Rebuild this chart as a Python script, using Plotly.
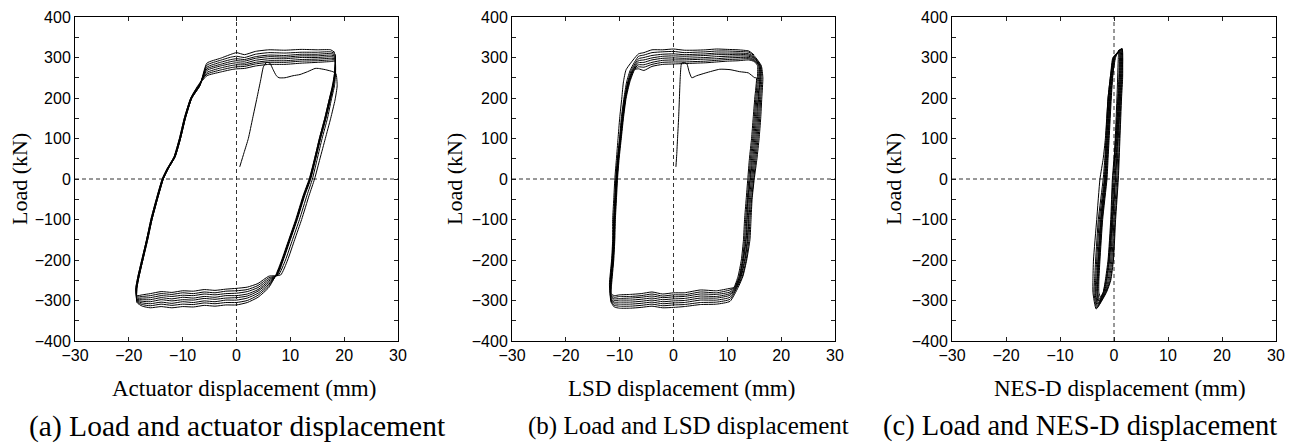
import plotly.graph_objects as go

# ---------------- Panel (a): load vs actuator displacement ----------------
A_INIT_X = [0.6, 1.4, 2.2, 3.0, 3.8, 4.5, 5.0, 5.6, 6.2, 6.8, 7.4, 7.9, 9.0, 10.5, 11.8, 13.2, 14.6, 15.2, 16.5, 17.9, 18.3]
A_INIT_Y = [30, 65, 100, 150, 200, 245, 277, 288, 286, 270, 255, 250, 250, 255, 258, 265, 273, 273, 270, 265, 262]

A_RD_Y = [260, 230, 195, 150, 100, 50, 0, -40, -100, -150, -200, -237]
A_RD_X = [
    [18.5, 18.7, 18.3, 17.5, 16.5, 15.5, 14.5, 13.5, 12.1, 10.8, 9.5, 8.2],
    [18.4, 18.2, 17.6, 16.9, 15.9, 15.0, 14.1, 13.1, 11.7, 10.4, 9.1, 7.8],
    [18.3, 18.0, 17.4, 16.6, 15.6, 14.7, 13.8, 12.7, 11.3, 10.0, 8.7, 7.6],
    [18.3, 18.0, 17.4, 16.6, 15.6, 14.7, 13.7, 12.6, 11.2, 9.9, 8.6, 7.5],
    [18.3, 17.9, 17.3, 16.5, 15.5, 14.6, 13.7, 12.6, 11.2, 9.9, 8.6, 7.5],
    [18.3, 17.9, 17.3, 16.5, 15.5, 14.6, 13.6, 12.5, 11.1, 9.8, 8.5, 7.4],
    [18.2, 17.9, 17.2, 16.4, 15.4, 14.5, 13.6, 12.5, 11.1, 9.8, 8.5, 7.4],
    [18.2, 17.8, 17.2, 16.4, 15.4, 14.5, 13.5, 12.4, 11.0, 9.7, 8.4, 7.3],
]
A_BP_X = [6.0, 4.0, 2.0, 0.0, -2.0, -4.0, -6.0, -8.0, -10.0, -12.0, -14.0, -16.0, -17.5, -18.5]
A_BP_Y = [
    [-240, -258, -267, -270, -272, -275, -273, -277, -276, -280, -278, -283, -286, -288],
    [-244, -263, -273, -276, -277, -281, -279, -283, -281, -285, -283, -288, -290, -291],
    [-248, -268, -278, -282, -283, -286, -284, -288, -287, -290, -288, -293, -294, -294],
    [-252, -273, -284, -288, -288, -292, -290, -294, -292, -296, -293, -298, -298, -297],
    [-256, -277, -289, -293, -294, -297, -295, -299, -298, -301, -298, -303, -302, -299],
    [-260, -282, -294, -299, -299, -303, -301, -305, -303, -307, -304, -308, -306, -301],
    [-264, -287, -300, -305, -305, -308, -306, -310, -309, -312, -309, -313, -310, -303],
    [-268, -292, -305, -311, -311, -314, -312, -316, -315, -318, -315, -318, -314, -305],
]
A_LU_Y = [-270, -240, -200, -150, -100, -50, 0, 25, 55, 100, 150, 200, 230]
A_LU_X = [
    [-18.7, -18.3, -17.6, -16.7, -15.9, -14.9, -13.8, -12.9, -11.6, -10.6, -9.7, -8.5, -7.1],
    [-18.7, -18.3, -17.6, -16.7, -15.9, -14.9, -13.8, -12.9, -11.6, -10.6, -9.7, -8.5, -7.2],
    [-18.6, -18.2, -17.5, -16.7, -15.8, -14.8, -13.7, -12.8, -11.5, -10.5, -9.6, -8.4, -7.0],
    [-18.6, -18.2, -17.5, -16.6, -15.8, -14.8, -13.7, -12.8, -11.5, -10.5, -9.6, -8.4, -7.0],
    [-18.6, -18.2, -17.5, -16.6, -15.8, -14.8, -13.7, -12.8, -11.5, -10.5, -9.6, -8.4, -6.9],
    [-18.6, -18.1, -17.4, -16.6, -15.7, -14.7, -13.6, -12.7, -11.4, -10.4, -9.5, -8.3, -6.9],
    [-18.5, -18.1, -17.4, -16.5, -15.7, -14.7, -13.6, -12.7, -11.4, -10.4, -9.5, -8.3, -6.8],
    [-18.5, -18.1, -17.4, -16.5, -15.7, -14.7, -13.6, -12.7, -11.4, -10.4, -9.5, -8.3, -6.8],
]
A_TP_X = [-5.5, -3.0, -1.0, 0.0, 1.5, 3.5, 6.0, 9.0, 12.0, 15.0, 17.5, 18.3]
A_TP_Y = [
    [255, 264, 270, 272, 273, 279, 283, 283, 286, 288, 290, 291],
    [259, 269, 275, 277, 278, 284, 288, 288, 291, 292, 294, 294],
    [263, 274, 280, 282, 282, 288, 292, 292, 295, 296, 298, 297],
    [268, 279, 285, 287, 286, 293, 297, 297, 300, 300, 302, 300],
    [272, 283, 290, 292, 291, 298, 302, 301, 304, 304, 306, 303],
    [276, 288, 295, 297, 295, 302, 306, 305, 308, 308, 310, 306],
    [281, 293, 301, 303, 300, 308, 312, 311, 313, 313, 314, 309],
    [286, 298, 308, 312, 307, 315, 319, 318, 320, 319, 319, 312],
]

# ---------------- Panel (b): load vs LSD displacement ----------------
B_INIT_X = [0.45, 0.6, 0.75, 0.95, 1.1, 1.25, 1.5, 2.0, 2.5, 2.9, 3.4, 4.3, 6.0, 8.6, 10.5, 12.3, 13.9, 15.1]
B_INIT_Y = [30, 60, 100, 150, 200, 250, 286, 288, 284, 265, 250, 255, 262, 271, 270, 265, 262, 250]

B_RD_Y = [280, 250, 200, 150, 100, 50, 0, -50, -100, -150, -200, -240, -268]
B_RD_X = [
    [15.4, 15.4, 15.1, 14.8, 14.5, 14.1, 13.8, 13.5, 13.2, 13.0, 12.6, 12.0, 11.2],
    [15.6, 15.6, 15.3, 15.0, 14.7, 14.3, 14.0, 13.7, 13.4, 13.2, 12.8, 12.2, 11.3],
    [15.8, 15.8, 15.5, 15.2, 14.9, 14.5, 14.2, 13.8, 13.6, 13.4, 12.9, 12.3, 11.4],
    [15.9, 16.0, 15.7, 15.4, 15.1, 14.7, 14.3, 13.9, 13.7, 13.5, 13.0, 12.4, 11.5],
    [16.0, 16.1, 15.8, 15.6, 15.3, 14.9, 14.5, 14.1, 13.9, 13.7, 13.2, 12.5, 11.6],
    [16.1, 16.2, 16.0, 15.8, 15.5, 15.1, 14.7, 14.3, 14.0, 13.8, 13.3, 12.6, 11.7],
    [16.2, 16.4, 16.2, 16.0, 15.7, 15.3, 14.9, 14.5, 14.2, 14.0, 13.5, 12.8, 11.8],
    [16.3, 16.6, 16.4, 16.2, 15.9, 15.5, 15.0, 14.6, 14.4, 14.2, 13.6, 12.9, 12.0],
]
B_BP_X = [10.5, 8.0, 5.0, 2.0, 0.0, -2.0, -4.0, -6.0, -8.0, -10.0, -11.0, -11.6]
B_BP_Y = [
    [-270, -276, -274, -281, -281, -284, -279, -283, -285, -286, -288, -283],
    [-274, -281, -279, -286, -286, -289, -284, -288, -290, -290, -292, -286],
    [-279, -285, -284, -290, -291, -293, -289, -292, -294, -295, -296, -289],
    [-283, -290, -289, -295, -296, -298, -294, -297, -299, -299, -300, -292],
    [-287, -294, -294, -300, -301, -303, -299, -302, -304, -304, -304, -295],
    [-292, -299, -299, -305, -306, -308, -304, -307, -309, -309, -308, -298],
    [-297, -304, -305, -310, -311, -313, -309, -312, -314, -314, -312, -301],
    [-302, -309, -310, -315, -317, -318, -314, -317, -319, -319, -316, -304],
]
B_LU_Y = [-260, -200, -150, -100, -50, 0, 50, 100, 150, 200, 240, 270]
B_LU_X = [
    [-11.5, -11.1, -10.9, -10.8, -10.6, -10.4, -10.1, -9.7, -9.3, -8.8, -8.1, -7.2],
    [-11.6, -11.2, -11.0, -10.9, -10.7, -10.5, -10.2, -9.8, -9.4, -8.9, -8.2, -7.3],
    [-11.6, -11.2, -11.0, -10.9, -10.7, -10.5, -10.2, -9.8, -9.4, -8.9, -8.3, -7.4],
    [-11.7, -11.3, -11.1, -11.0, -10.8, -10.6, -10.3, -9.9, -9.5, -9.0, -8.4, -7.5],
    [-11.7, -11.3, -11.1, -11.0, -10.8, -10.6, -10.3, -9.9, -9.5, -9.0, -8.4, -7.6],
    [-11.8, -11.4, -11.2, -11.1, -10.9, -10.7, -10.4, -10.0, -9.6, -9.1, -8.5, -7.8],
    [-11.8, -11.4, -11.2, -11.1, -10.9, -10.7, -10.4, -10.0, -9.7, -9.2, -8.7, -8.0],
    [-11.9, -11.5, -11.3, -11.3, -11.1, -10.9, -10.6, -10.3, -10.0, -9.6, -9.3, -8.8],
]
B_TP_X = [-6.5, -5.5, -4.0, -2.0, 0.0, 2.0, 4.0, 6.0, 8.0, 10.0, 12.0, 14.0, 15.0]
B_TP_Y = [
    [272, 268, 278, 283, 284, 285, 286, 287, 289, 291, 292, 294, 290],
    [277, 276, 283, 288, 289, 289, 290, 291, 293, 295, 296, 297, 292],
    [282, 282, 288, 293, 294, 294, 295, 296, 297, 299, 300, 300, 294],
    [287, 288, 294, 298, 299, 298, 299, 300, 302, 303, 304, 303, 297],
    [292, 294, 299, 303, 304, 303, 304, 305, 307, 307, 308, 306, 299],
    [297, 300, 305, 308, 309, 307, 308, 309, 311, 311, 311, 309, 301],
    [303, 306, 312, 314, 315, 312, 313, 314, 316, 316, 315, 313, 304],
    [309, 312, 319, 319, 321, 318, 318, 319, 321, 320, 319, 316, 306],
]

# ---------------- Panel (c): load vs NES-D displacement ----------------
C_INIT_X = [0.0, 0.3, 0.6, 0.8]
C_INIT_Y = [30, 120, 220, 300]
C_TOP_X = [0.9, 1.0, 1.1, 1.2, 1.3, 1.4, 1.5, 1.5]
C_TOP_Y = [318, 319, 320, 320, 321, 321, 322, 322]
C_RD_Y = [300, 250, 200, 100, 0, -100, -200, -250, -280]
C_RD_X = [
    [1.0, 0.9, 0.7, 0.3, -0.3, -0.6, -1.1, -1.6, -2.0],
    [1.1, 1.0, 0.8, 0.4, -0.2, -0.5, -1.0, -1.5, -2.0],
    [1.2, 1.1, 0.9, 0.5, 0.0, -0.4, -0.9, -1.4, -1.9],
    [1.3, 1.2, 1.0, 0.6, 0.2, -0.3, -0.8, -1.3, -1.8],
    [1.4, 1.3, 1.1, 0.7, 0.3, -0.2, -0.6, -1.1, -1.7],
    [1.5, 1.4, 1.2, 0.8, 0.5, 0.0, -0.4, -0.9, -1.6],
    [1.6, 1.5, 1.3, 1.0, 0.7, 0.2, -0.2, -0.7, -1.5],
    [1.6, 1.6, 1.4, 1.1, 0.8, 0.3, -0.1, -0.6, -1.4],
]
C_BOT_X = [-2.5, -2.7, -2.8, -2.9, -3.0, -3.1, -3.2, -3.3]
C_BOT_Y = [-292, -297, -302, -306, -310, -314, -318, -321]
C_LU_Y = [-280, -250, -200, -100, 0, 50, 100, 200, 260, 300]
C_LU_X = [
    [-2.8, -2.8, -2.6, -2.1, -1.3, -1.1, -0.9, -0.5, -0.2, 0.3],
    [-3.0, -2.9, -2.7, -2.2, -1.4, -1.2, -1.0, -0.6, -0.2, 0.2],
    [-3.1, -3.0, -2.8, -2.3, -1.5, -1.3, -1.1, -0.7, -0.3, 0.1],
    [-3.2, -3.1, -2.9, -2.4, -1.6, -1.4, -1.2, -0.8, -0.4, 0.0],
    [-3.4, -3.2, -3.0, -2.5, -1.7, -1.5, -1.3, -0.9, -0.5, 0.0],
    [-3.5, -3.4, -3.2, -2.7, -1.8, -1.6, -1.4, -1.0, -0.5, -0.1],
    [-3.7, -3.6, -3.4, -2.9, -2.0, -1.7, -1.5, -1.1, -0.6, -0.2],
    [-3.9, -3.9, -3.8, -3.2, -2.6, -2.0, -1.6, -1.1, -0.6, -0.1],
]

X_TICKS = [-30, -20, -10, 0, 10, 20, 30]
Y_TICKS = [-400, -300, -200, -100, 0, 100, 200, 300, 400]
X_TITLES = ["Actuator displacement (mm)", "LSD displacement (mm)", "NES-D displacement (mm)"]
CAPTIONS = ["(a) Load and actuator displacement", "(b) Load and LSD displacement",
            "(c) Load and NES-D displacement"]
Y_TITLE = "Load (kN)"


def build_rect(init_x, init_y, rd_x, rd_y, bp_x, bp_y, lu_x, lu_y, tp_x, tp_y, skip_first=False):
    xs, ys = list(init_x), list(init_y)
    for k in range(len(rd_x)):
        s = 1 if (k == 0 and skip_first) else 0
        xs += rd_x[k][s:]
        ys += rd_y[s:]
        xs += bp_x
        ys += bp_y[k]
        xs += lu_x[k]
        ys += lu_y
        xs += tp_x
        ys += tp_y[k]
    return xs, ys


ax, ay = build_rect(A_INIT_X, A_INIT_Y, A_RD_X, A_RD_Y, A_BP_X, A_BP_Y, A_LU_X, A_LU_Y, A_TP_X, A_TP_Y)
bx, by = build_rect(B_INIT_X, B_INIT_Y, B_RD_X, B_RD_Y, B_BP_X, B_BP_Y, B_LU_X, B_LU_Y, B_TP_X, B_TP_Y,
                    skip_first=True)
cx, cy = list(C_INIT_X), list(C_INIT_Y)
for k in range(len(C_RD_X)):
    cx += [C_TOP_X[k]] + C_RD_X[k] + [C_BOT_X[k]] + C_LU_X[k]
    cy += [C_TOP_Y[k]] + C_RD_Y + [C_BOT_Y[k]] + C_LU_Y

# The page body has an 8 px margin, so the figure is drawn 8 px smaller and
# every pixel position (measured in the window) is shifted by that margin.
PAGE_MARGIN = 8
W, H = 1298 - PAGE_MARGIN, 443 - PAGE_MARGIN
X_DOMAINS_PX = [(75, 398), (512, 835), (952, 1276)]
YTITLE_X_PX = [19, 454, 893]
XTITLE_X_PX = [244, 682, 1120]
CAPTION_X_PX = [237, 688, 1080]
CAPTION_SIZES = [29.5, 25, 28.5]
YTITLE_Y_PX, XTITLE_Y_PX, CAPTION_Y_PX = 179, 388, 426


def px_x(p):
    return (p - PAGE_MARGIN) / W


def px_y(p):
    return 1 - (p - PAGE_MARGIN) / H


fig = go.Figure()
line = dict(color="black", width=1, shape="spline", smoothing=0.5)
for i, (xs, ys) in enumerate([(ax, ay), (bx, by), (cx, cy)]):
    sfx = "" if i == 0 else str(i + 1)
    fig.add_trace(go.Scatter(x=xs, y=ys, mode="lines", line=line,
                             xaxis="x" + sfx, yaxis="y" + sfx, hoverinfo="skip"))

tickfont = dict(family="Liberation Sans, Arial, sans-serif", size=16, color="black")
serif = "Liberation Serif, Times New Roman, serif"
layout = dict(width=W, height=H, margin=dict(l=0, r=0, t=0, b=0, autoexpand=False),
              paper_bgcolor="white", plot_bgcolor="white", showlegend=False)
annotations = []
shapes = []
for i in range(3):
    sfx = "" if i == 0 else str(i + 1)
    x0, x1 = X_DOMAINS_PX[i]
    layout["xaxis" + sfx] = dict(
        domain=[px_x(x0), px_x(x1)], anchor="y" + sfx, range=[-30, 30], automargin=False,
        tickvals=X_TICKS, ticks="inside", ticklen=4, tickcolor="#222",
        showline=True, linecolor="black", linewidth=1, mirror="ticks",
        showgrid=False, zeroline=False, tickfont=tickfont, fixedrange=True)
    layout["yaxis" + sfx] = dict(
        domain=[px_y(341), px_y(17)], anchor="x" + sfx, range=[-400, 400],
        automargin=False,
        tickvals=Y_TICKS, ticks="inside", ticklen=4, tickcolor="#222",
        minor=dict(dtick=50, ticks="inside", ticklen=4, tickcolor="#222", showgrid=False),
        showline=True, linecolor="black", linewidth=1, mirror="ticks",
        showgrid=False, zeroline=False, tickfont=tickfont, fixedrange=True)
    shapes.append(dict(type="line", xref="x" + sfx, yref="y" + sfx + " domain", x0=0, x1=0, y0=0, y1=1,
                       line=dict(color="#333", width=1, dash="4px,3px"), layer="below"))
    shapes.append(dict(type="line", xref="x" + sfx + " domain", yref="y" + sfx, x0=0, x1=1, y0=0, y1=0,
                       line=dict(color="#333", width=1, dash="4px,3px"), layer="below"))
    annotations.append(dict(text=Y_TITLE, textangle=-90, xref="paper", yref="paper",
                            x=px_x(YTITLE_X_PX[i]), y=px_y(YTITLE_Y_PX), xanchor="center", yanchor="middle",
                            showarrow=False, font=dict(family=serif, size=22, color="black")))
    annotations.append(dict(text=X_TITLES[i], xref="paper", yref="paper",
                            x=px_x(XTITLE_X_PX[i]), y=px_y(XTITLE_Y_PX), xanchor="center", yanchor="middle",
                            showarrow=False, font=dict(family=serif, size=23, color="black")))
    annotations.append(dict(text=CAPTIONS[i], xref="paper", yref="paper",
                            x=px_x(CAPTION_X_PX[i]), y=px_y(CAPTION_Y_PX), xanchor="center", yanchor="middle",
                            showarrow=False, font=dict(family=serif, size=CAPTION_SIZES[i], color="black")))
layout["annotations"] = annotations
layout["shapes"] = shapes
fig.update_layout(**layout)
fig.write_html("out.html")
